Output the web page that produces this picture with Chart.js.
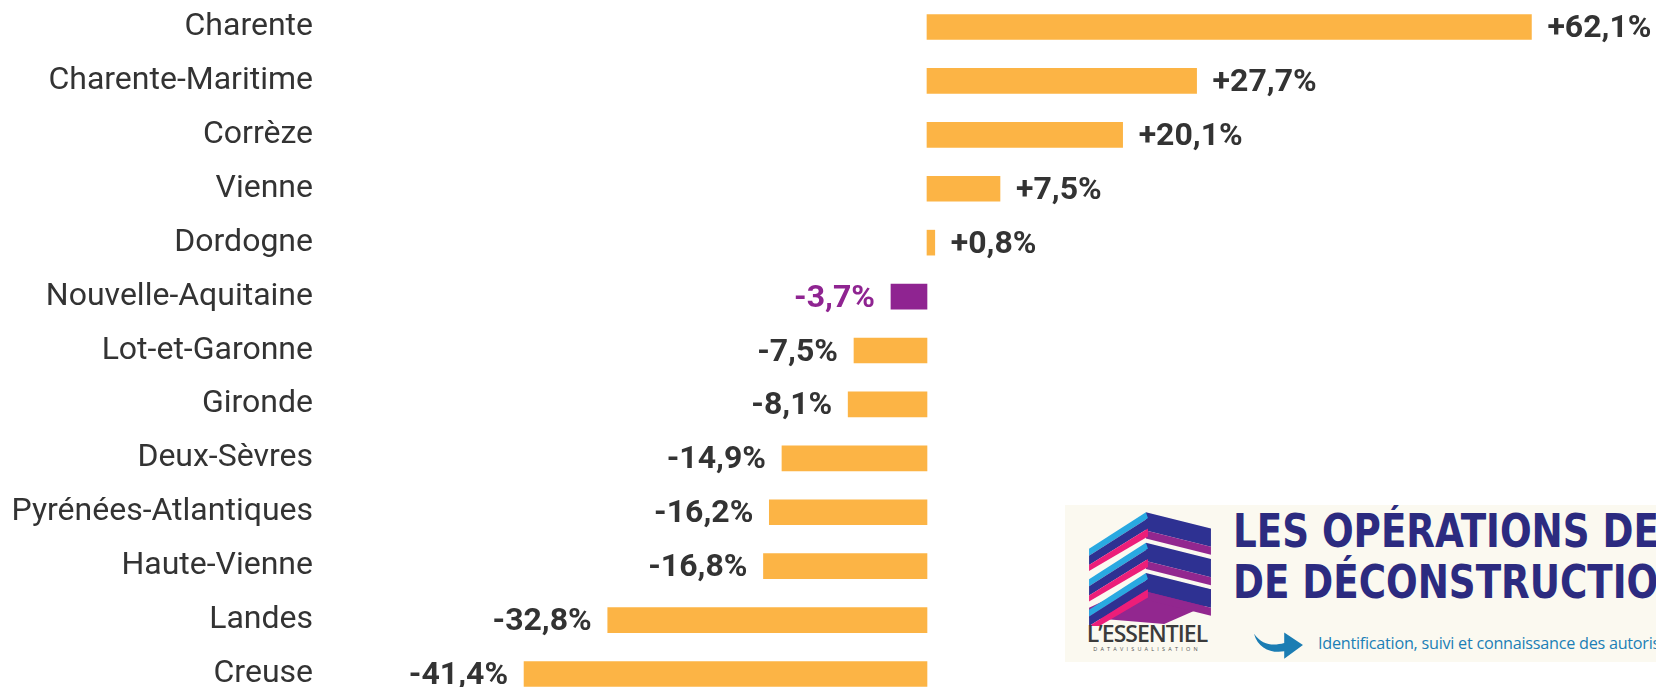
<!DOCTYPE html>
<html>
<head>
<meta charset="utf-8">
<script src="https://cdn.jsdelivr.net/npm/chart.js@4/dist/chart.umd.min.js"></script>
<style>
    html, body { margin: 0; padding: 0; background: #fff; overflow: hidden; }
    #wrap { position: absolute; left: 0; top: 0; width: 1656px; height: 701px; }
    #logo {
        position: absolute; left: 1065px; top: 505px; width: 591px; height: 157px;
        background: #fbf9f0; overflow: hidden;
    }
    #logo .icon { position: absolute; left: 22px; top: 1px; }
    #logo .brand {
        position: absolute; left: 4px; top: 112px; width: 156px; text-align: center;
        font: 600 23px "Open Sans", sans-serif; color: #3b3b3b; letter-spacing: -1px;
    }
    #logo .sub {
        position: absolute; left: 12px; top: 140px; width: 140px; text-align: center;
        font: 5.5px "Open Sans", sans-serif; color: #555; letter-spacing: 3.2px;
    }
    #logo .title {
        position: absolute; left: 168px; top: 1px; white-space: nowrap;
        font: bold 46px "DejaVu Sans Condensed", sans-serif;
        color: #2c2b80; line-height: 51px;
        transform: scaleX(0.9); transform-origin: 0 0;
    }
    #logo .arrow { position: absolute; left: 189px; top: 122px; }
    #logo .tagline {
        position: absolute; left: 253px; top: 127px; white-space: nowrap;
        font: 16.2px "Open Sans", sans-serif; color: #1c7fb6; letter-spacing: -0.25px;
    }
</style>
</head>
<body>
<div id="wrap"><canvas id="evolutionChart"></canvas></div>

<div id="logo">
    <svg class="icon" width="126" height="120" viewBox="0 0 124 118">
        <g id="layers"></g>
    </svg>
    <div class="brand">L’ESSENTIEL</div>
    <div class="sub">DATAVISUALISATION</div>
    <div class="title">LES OPÉRATIONS DE<br>DE DÉCONSTRUCTION</div>
    <svg class="arrow" width="50" height="32" viewBox="0 0 48 30">
        <path d="M0 6 C8 17 18 18 29 15 L29 5 L47 17 L29 30 L29 23 C16 25 4 20 0 6 Z" fill="#1b7db3"/>
    </svg>
    <div class="tagline">Identification, suivi et connaissance des autorisations</div>
</div>

<script>
// categories and % change values
var departements = ['Charente', 'Charente-Maritime', 'Corrèze', 'Vienne', 'Dordogne',
    'Nouvelle-Aquitaine', 'Lot-et-Garonne', 'Gironde', 'Deux-Sèvres',
    'Pyrénées-Atlantiques', 'Haute-Vienne', 'Landes', 'Creuse'];
var evolution = [62.1, 27.7, 20.1, 7.5, 0.8, -3.7, -7.5, -8.1, -14.9, -16.2, -16.8, -32.8, -41.4];
var region = 'Nouvelle-Aquitaine';

var ORANGE = '#fcb445';
var PURPLE = '#8f2491';
var TEXT = '#333333';

// logo icon, stacked slabs
(function drawIcon() {
    var g = document.getElementById('layers');
    var ns = 'http://www.w3.org/2000/svg';
    function poly(pts, fill) {
        var p = document.createElementNS(ns, 'polygon');
        p.setAttribute('points', pts);
        p.setAttribute('fill', fill);
        g.appendChild(p);
    }
    // bottom slab
    poly('2,100 58,74 122,82 122,96 76,116 2,110', '#92278f');
    for (var k = 2; k >= 0; k--) {
        var o = k * 30;
        poly('58,' + (6 + o) + ' 122,' + (22 + o) + ' 122,' + (40 + o) + ' 58,' + (24 + o), '#2e3192');
        poly('58,' + (24 + o) + ' 122,' + (40 + o) + ' 122,' + (48 + o) + ' 58,' + (32 + o), '#92278f');
        poly('2,' + (42 + o) + ' 58,' + (6 + o) + ' 60,' + (12 + o) + ' 2,' + (49 + o), '#29a9e1');
        poly('2,' + (49 + o) + ' 60,' + (12 + o) + ' 60,' + (22 + o) + ' 2,' + (58 + o), '#2e3192');
        poly('2,' + (58 + o) + ' 60,' + (22 + o) + ' 60,' + (30 + o) + ' 2,' + (64 + o), '#ec1e79');
    }
})();

var valueLabels = {
    id: 'valueLabels',
    afterDatasetsDraw: function(chart) {
        var ctx = chart.ctx;
        var meta = chart.getDatasetMeta(0);
        ctx.save();
        ctx.font = 'bold 32px Roboto';
        ctx.textBaseline = 'middle';
        meta.data.forEach(function(bar, i) {
            var v = evolution[i];
            var txt = (v > 0 ? '+' : '') + v.toFixed(1).replace('.', ',') + '%';
            ctx.fillStyle = departements[i] === region ? PURPLE : TEXT;
            if (v >= 0) {
                ctx.textAlign = 'left';
                ctx.fillText(txt, bar.x + 16, bar.y + 2);
            } else {
                ctx.textAlign = 'right';
                ctx.fillText(txt, bar.x - 16, bar.y + 2);
            }
        });
        ctx.restore();
    }
};

new Chart(document.getElementById('evolutionChart'), {
    type: 'bar',
    data: {
        labels: departements,
        datasets: [{
            data: evolution,
            backgroundColor: departements.map(function(d) { return d === region ? PURPLE : ORANGE; }),
            barThickness: 25,
            borderWidth: 0
        }]
    },
    options: {
        indexAxis: 'y',
        responsive: true,
        maintainAspectRatio: false,
        animation: false,
        layout: { padding: 0 },
        plugins: {
            legend: { display: false },
            tooltip: { enabled: false }
        },
        scales: {
            x: {
                display: false,
                min: -61.85,
                max: 74.9
            },
            y: {
                grid: { display: false, drawTicks: false },
                border: { display: false },
                afterFit: function(scale) {
                    scale.width = 325;
                    scale.paddingTop = 0;
                    scale.paddingBottom = 0;
                },
                ticks: {
                    padding: 12,
                    color: TEXT,
                    font: { family: 'Roboto', size: 32 }
                }
            }
        }
    },
    plugins: [valueLabels]
});
</script>
</body>
</html>
